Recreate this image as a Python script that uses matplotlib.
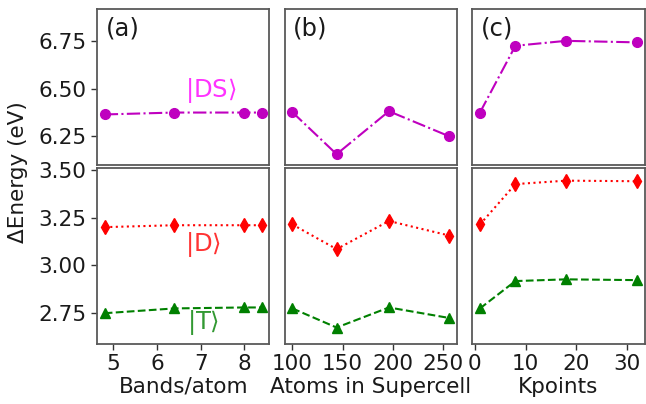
import numpy as np
import matplotlib.pyplot as plt

# panel (a): bands per atom
bands = [4.8, 6.4, 8.0, 8.4]
bands_ds = [6.365, 6.375, 6.375, 6.375]
bands_d = [3.20, 3.21, 3.21, 3.21]
bands_t = [2.75, 2.775, 2.78, 2.78]

# panel (b): atoms in supercell
atoms = [100, 144, 196, 256]
atoms_ds = [6.377, 6.156, 6.382, 6.25]
atoms_d = [3.214, 3.085, 3.232, 3.156]
atoms_t = [2.775, 2.675, 2.78, 2.725]

# panel (c): kpoints
kpts = [1, 8, 18, 32]
kpts_ds = [6.375, 6.726, 6.752, 6.744]
kpts_d = [3.214, 3.425, 3.443, 3.44]
kpts_t = [2.775, 2.918, 2.927, 2.923]

panel_labels = ["(a)", "(b)", "(c)"]
xlabels = ["Bands/atom", "Atoms in Supercell", "Kpoints"]
xticks = [[5, 6, 7, 8], [100, 150, 200, 250], [0, 10, 20, 30]]

plt.rcParams["font.family"] = "DejaVu Sans"
plt.rcParams["mathtext.fontset"] = "dejavusans"

fig, axes = plt.subplots(2, 3, figsize=(6.46, 4.04), dpi=100,
                         gridspec_kw=dict(height_ratios=[156, 176], left=0.150, right=0.998,
                                          top=0.978, bottom=0.149, wspace=0.087, hspace=0.018))

data = [(bands, bands_ds, bands_d, bands_t),
        (atoms, atoms_ds, atoms_d, atoms_t),
        (kpts, kpts_ds, kpts_d, kpts_t)]

for i, (x, ds, d, t) in enumerate(data):
    top = axes[0, i]
    bot = axes[1, i]
    top.plot(x, ds, color="m", linestyle="-.", marker="o", markersize=7, linewidth=1.5)
    bot.plot(x, d, color="r", linestyle=":", marker="d", markersize=7.5, linewidth=1.5)
    bot.plot(x, t, color="g", linestyle="--", marker="^", markersize=7, linewidth=1.5)

    top.set_ylim(6.10, 6.92)
    bot.set_ylim(2.59, 3.51)
    bot.set_xlim(top.get_xlim())
    top.set_xlim(bot.get_xlim())

    for ax in (top, bot):
        for sp in ax.spines.values():
            sp.set_color("0.35")
            sp.set_linewidth(1.3)
        ax.tick_params(labelsize=15.5, width=1, length=4, color="0.2", labelcolor="0.1")

    top.tick_params(bottom=False, labelbottom=False)
    bot.set_xticks(xticks[i])
    bot.set_xlabel(xlabels[i], fontsize=15.5, labelpad=2, color="0.1")
    top.text(0.05, 0.95, panel_labels[i], transform=top.transAxes, fontsize=17.5,
             ha="left", va="top", color="0.1")

    if i == 0:
        top.set_yticks([6.25, 6.50, 6.75])
        bot.set_yticks([2.75, 3.00, 3.25, 3.50])
    else:
        top.tick_params(left=False, labelleft=False)
        bot.tick_params(left=False, labelleft=False)

axes[0, 0].text(7.23, 6.49, r"$|\mathregular{DS}\rangle$", color="magenta", alpha=0.8,
                fontsize=17.5, ha="center", va="center")
axes[1, 0].text(7.05, 3.11, r"$|\mathregular{D}\rangle$", color="red", alpha=0.8,
                fontsize=17.5, ha="center", va="center")
axes[1, 0].text(7.05, 2.70, r"$|\mathregular{T}\rangle$", color="green", alpha=0.8,
                fontsize=17.5, ha="center", va="center")

fig.text(0.028, 0.575, "ΔEnergy (eV)", rotation=90, fontsize=15.5, ha="center", va="center",
         color="0.1")

fig.savefig("out.png", dpi=100)
